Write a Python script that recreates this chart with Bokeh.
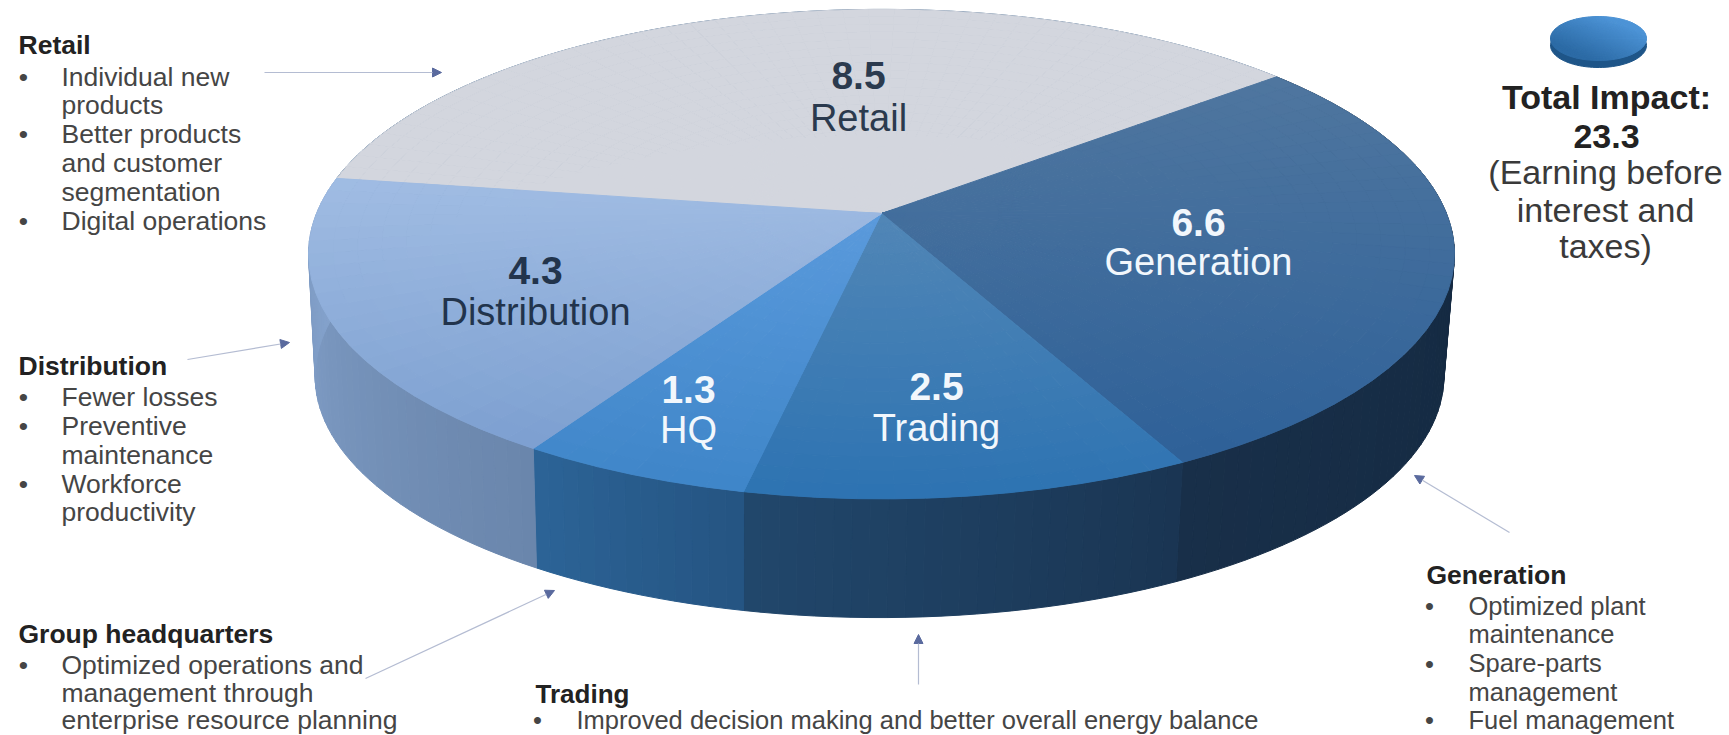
import numpy as np
from bokeh.plotting import figure
from bokeh.models import ColumnDataSource, Arrow, NormalHead
from bokeh.core.properties import value
from bokeh.embed import file_html
from bokeh.resources import INLINE

segments = ["Retail", "Generation", "Trading", "HQ", "Distribution"]
amounts = [8.5, 6.6, 2.5, 1.3, 4.3]
start_angle = -171.3

top_c0 = ["#D3D6DE", "#4F769F", "#5186B6", "#5A9ADC", "#A0BCE3"]
top_c1 = ["#D3D6DE", "#2D6098", "#2D73B2", "#3E85C8", "#7C9FD0"]
top_y0 = [20, 80, 215, 215, 180]
top_y1 = [220, 470, 495, 490, 450]
wall_c0 = ["#2A5580", "#11253B", "#1A3553", "#255482", "#6A86AC"]
wall_c1 = ["#2A5580", "#182F49", "#21476B", "#2C6497", "#86A4CE"]

text_x = [18, 23, 61, 61, 23, 61, 61, 61, 23, 61,
          18, 23, 61, 23, 61, 61, 23, 61, 61,
          18, 23, 61, 61, 61,
          535, 537, 576,
          1426, 1429, 1468, 1468, 1429, 1468, 1468, 1429, 1468]
text_y = [53, 85, 85, 113, 142, 142, 171, 200, 229, 229,
          374, 405, 405, 434, 434, 463, 492, 492, 520,
          642, 673, 673, 701, 728,
          702, 728, 728,
          583, 614, 614, 642, 672, 671, 700, 728, 728]
text_s = ["Retail", "•", "Individual new", "products", "•", "Better products", "and customer", "segmentation", "•", "Digital operations",
          "Distribution", "•", "Fewer losses", "•", "Preventive", "maintenance", "•", "Workforce", "productivity",
          "Group  headquarters", "•", "Optimized operations and", "management through", "enterprise resource planning",
          "Trading", "•", "Improved decision making and better overall energy balance",
          "Generation", "•", "Optimized plant", "maintenance", "•", "Spare-parts", "management", "•", "Fuel management"]
text_size = [26.5] * 24 + [26, 25.5, 25.5] + [26.5] + [25.5] * 8
heads = ["Retail", "Distribution", "Group  headquarters", "Trading", "Generation"]

side_s = ["Total Impact:", "23.3", "(Earning before", "interest and", "taxes)"]
side_y = [108, 147, 183, 221, 257]

label_x = [858, 1198, 936, 688, 535]
label_num_y = [88, 235, 399, 402, 283]
label_seg_y = [130, 274, 440, 442, 324]
label_col = ["#2B3A4E", "#F2F7FC", "#F2F7FC", "#F2F7FC", "#22344C"]

arrow_x0 = [264, 187, 365, 918, 1509]
arrow_y0 = [72, 359, 678, 684, 532]
arrow_x1 = [441, 289, 554, 918, 1414]
arrow_y1 = [72, 342, 590, 634, 475]

X0, Y0, RX, RY, KY = 881, 213, 565, 238, 0.166
LIFT = 0.33  # em, baseline correction for the svg text


def proj(theta, r=1.0, x0=X0, y0=Y0, rx=RX, ry=RY):
    a = np.radians(theta)
    x, y = r * np.cos(a), r * np.sin(a)
    w = 1 - KY * y
    return x0 + rx * x / w, y0 + ry * y / w


def mix(c0, c1, t):
    t = float(np.clip(t, 0, 1))
    a = [int(c0[i:i + 2], 16) for i in (1, 3, 5)]
    b = [int(c1[i:i + 2], 16) for i in (1, 3, 5)]
    return "#%02x%02x%02x" % tuple(round(u + (v - u) * t) for u, v in zip(a, b))


p = figure(width=1729, height=735, x_range=(0, 1729), y_range=(735, 0),
           output_backend="svg", toolbar_location=None, min_border=0)
p.axis.visible = False
p.grid.visible = False
p.outline_line_color = None
p.background_fill_color = "#FFFFFF"

total = sum(amounts)
spans = [v / total * 360 for v in amounts]
edges = start_angle + np.concatenate([[0], np.cumsum(spans)])

# side wall, cell by cell along the rim
wx, wy, wc = [], [], []
BOT = dict(x0=X0 - 2, y0=336, rx=RX * 0.985, ry=RY * 0.985)
for i in range(len(amounts)):
    a0, a1 = edges[i], edges[i + 1]
    n = max(2, int((a1 - a0) / 1.5))
    th = np.linspace(a0, a1, n + 1)
    for j in range(n):
        tx0, ty0 = proj(th[j])
        tx1, ty1 = proj(th[j + 1])
        bx0, by0 = proj(th[j], **BOT)
        bx1, by1 = proj(th[j + 1], **BOT)
        wx.append([tx0, tx1, bx1, bx0])
        wy.append([ty0, ty1, by1, by0])
        wc.append(mix(wall_c0[i], wall_c1[i], (j + 0.5) / n))
p.patches(wx, wy, fill_color=wc, line_color=wc, line_width=1)

# top face, gradient in small cells
fx, fy, fc = [], [], []
radii = np.linspace(0, 1, 25)
for i in range(len(amounts)):
    a0, a1 = edges[i], edges[i + 1]
    n = max(2, int((a1 - a0) / 3))
    th = np.linspace(a0, a1, n + 1)
    for j in range(n):
        for k in range(len(radii) - 1):
            r0, r1 = radii[k], radii[k + 1]
            xs = [proj(th[j], r0)[0], proj(th[j + 1], r0)[0], proj(th[j + 1], r1)[0], proj(th[j], r1)[0]]
            ys = [proj(th[j], r0)[1], proj(th[j + 1], r0)[1], proj(th[j + 1], r1)[1], proj(th[j], r1)[1]]
            fx.append(xs)
            fy.append(ys)
            fc.append(mix(top_c0[i], top_c1[i], (np.mean(ys) - top_y0[i]) / (top_y1[i] - top_y0[i])))
p.patches(fx, fy, fill_color=fc, line_color=fc, line_width=1)

# small disc
dth = np.linspace(0, 360, 90)
da = np.radians(dth)
p.patch(1598 + 48 * np.cos(da), 45 + 22 * np.sin(da), fill_color="#1E5588", line_color="#1E5588")
dx, dy, dc = [], [], []
dr = np.linspace(0, 1, 13)
for j in range(len(dth) - 1):
    for k in range(len(dr) - 1):
        xs = [1598 + 48 * dr[k] * np.cos(da[j]), 1598 + 48 * dr[k] * np.cos(da[j + 1]),
              1598 + 48 * dr[k + 1] * np.cos(da[j + 1]), 1598 + 48 * dr[k + 1] * np.cos(da[j])]
        ys = [38 + 22 * dr[k] * np.sin(da[j]), 38 + 22 * dr[k] * np.sin(da[j + 1]),
              38 + 22 * dr[k + 1] * np.sin(da[j + 1]), 38 + 22 * dr[k + 1] * np.sin(da[j])]
        dx.append(xs)
        dy.append(ys)
        t = 0.5 + (np.mean(xs) - 1598) / 110 - (np.mean(ys) - 38) / 50
        dc.append(mix("#2C6BA6", "#4C93D6", t))
p.patches(dx, dy, fill_color=dc, line_color=dc, line_width=1)

# arrows
for x0, y0, x1, y1 in zip(arrow_x0, arrow_y0, arrow_x1, arrow_y1):
    p.add_layout(Arrow(end=NormalHead(size=9, fill_color="#5A6A9E", line_color="#5A6A9E"),
                       x_start=x0, y_start=y0, x_end=x1, y_end=y1,
                       line_color="#B4BCD2", line_width=1.2))

# list texts
font = value("Liberation Sans")
src = ColumnDataSource(dict(
    x=text_x, y=[y - LIFT * z for y, z in zip(text_y, text_size)], s=text_s,
    z=[f"{z}px" for z in text_size],
    c=["#222222" if t in heads else "#454545" for t in text_s],
    st=["bold" if t in heads else "normal" for t in text_s],
    al=["center" if t == "•" else "left" for t in text_s]))
p.text("x", "y", "s", source=src, text_font=font, text_font_size="z", text_color="c",
       text_font_style="st", text_align="al", text_baseline="alphabetic")

# side text
sy = [y - LIFT * 34 for y in side_y]
p.text([1606] * 2, sy[:2], side_s[:2], text_font=font, text_font_size=value("34px"), text_font_style="bold",
       text_color="#222222", text_align="center", text_baseline="alphabetic")
p.text([1605] * 3, sy[2:], side_s[2:], text_font=font, text_font_size=value("34px"),
       text_color="#3A3A3A", text_align="center", text_baseline="alphabetic")

# slice labels
p.text(label_x, [y - LIFT * 39 for y in label_num_y], [f"{v:.1f}" for v in amounts], text_font=font,
       text_font_size=value("39px"), text_font_style="bold", text_color=label_col, text_align="center",
       text_baseline="alphabetic")
p.text(label_x, [y - LIFT * 38 for y in label_seg_y], segments, text_font=font, text_font_size=value("38px"),
       text_color=label_col, text_align="center", text_baseline="alphabetic")

open("out.html", "w").write(file_html(p, INLINE))
